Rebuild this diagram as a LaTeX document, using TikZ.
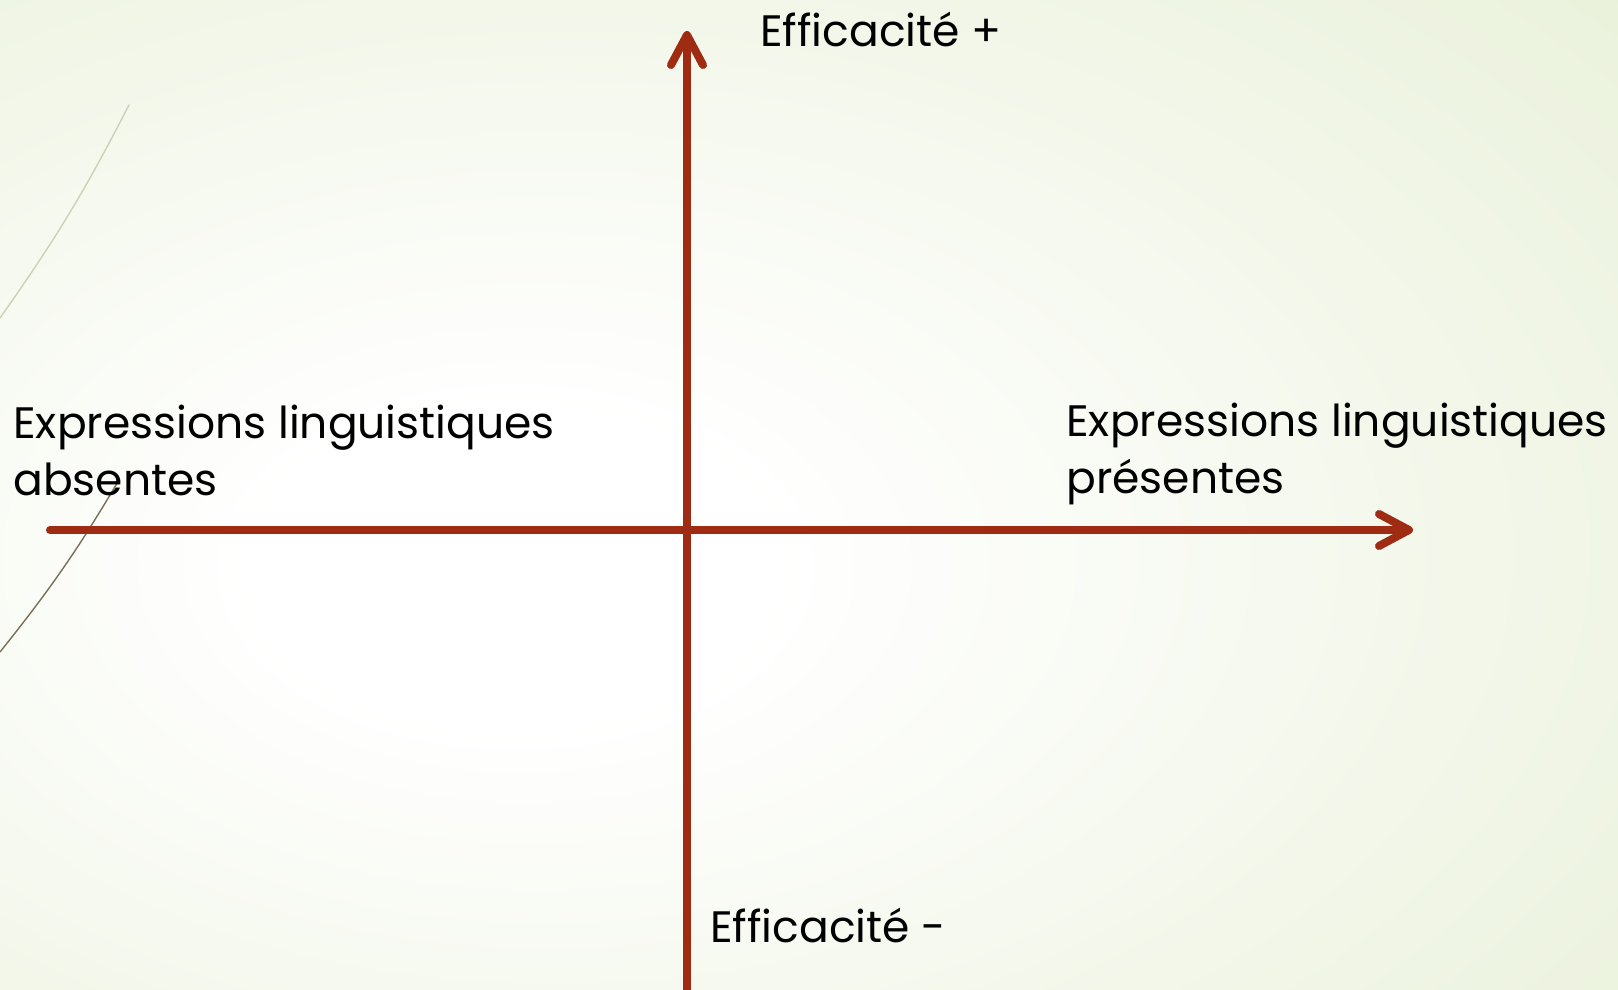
\documentclass[tikz,border=0pt]{standalone}
\usepackage{fontspec}
\setmainfont{Poppins}
\usetikzlibrary{arrows.meta}
\definecolor{axisred}{RGB}{158,43,18}
\definecolor{wispgreen}{RGB}{221,233,197}
\definecolor{wispdark}{RGB}{120,112,88}
\definecolor{wisplight}{RGB}{206,208,186}
\pgfdeclareradialshading{slidebg}{\pgfpoint{-10bp}{-4bp}}{color(0bp)=(white); color(8bp)=(white); color(62bp)=(wispgreen); color(100bp)=(wispgreen)}
\begin{document}
\begin{tikzpicture}[x=0.5pt,y=-0.5pt,line cap=round,
    axe/.style={line width=4pt,draw=axisred},
    lbl/.style={inner sep=0pt,anchor=base west,align=left,font=\fontsize{22}{28.5}\selectfont},
    wisp/.style={line width=0.7pt}]
  \shade[shading=slidebg] (0,0) rectangle (1618,990);
  \useasboundingbox (0,0) rectangle (1618,990);
  % thin strokes on the left
  \draw[wisp,draw=wisplight] (129,105) to[bend left=4] (0,318);
  \draw[wisp,draw=wispdark] (119,480) to[bend left=4] (0,652);
  % axes
  \coordinate (xmin) at (50,530);
  \coordinate (xmax) at (1413,530);
  \coordinate (ymin) at (687,990);
  \coordinate (ymax) at (687,31);
  \draw[axe,-{Straight Barb[length=15pt,width=16pt,round]}] (xmin)--(xmax);
  \draw[axe,line cap=butt,-{Straight Barb[length=15pt,width=16pt,round]}] (ymin)--(ymax);
  % labels (base = last line)
  \node[lbl] (plus) at (760,47) {Efficacité +};
  \node[lbl] (minus) at (710,942) {Efficacité -};
  \node[lbl] (absent) at (13,495) {Expressions linguistiques\\absentes};
  \node[lbl] (present) at (1066,493) {Expressions linguistiques\\présentes};
\end{tikzpicture}
\end{document}
